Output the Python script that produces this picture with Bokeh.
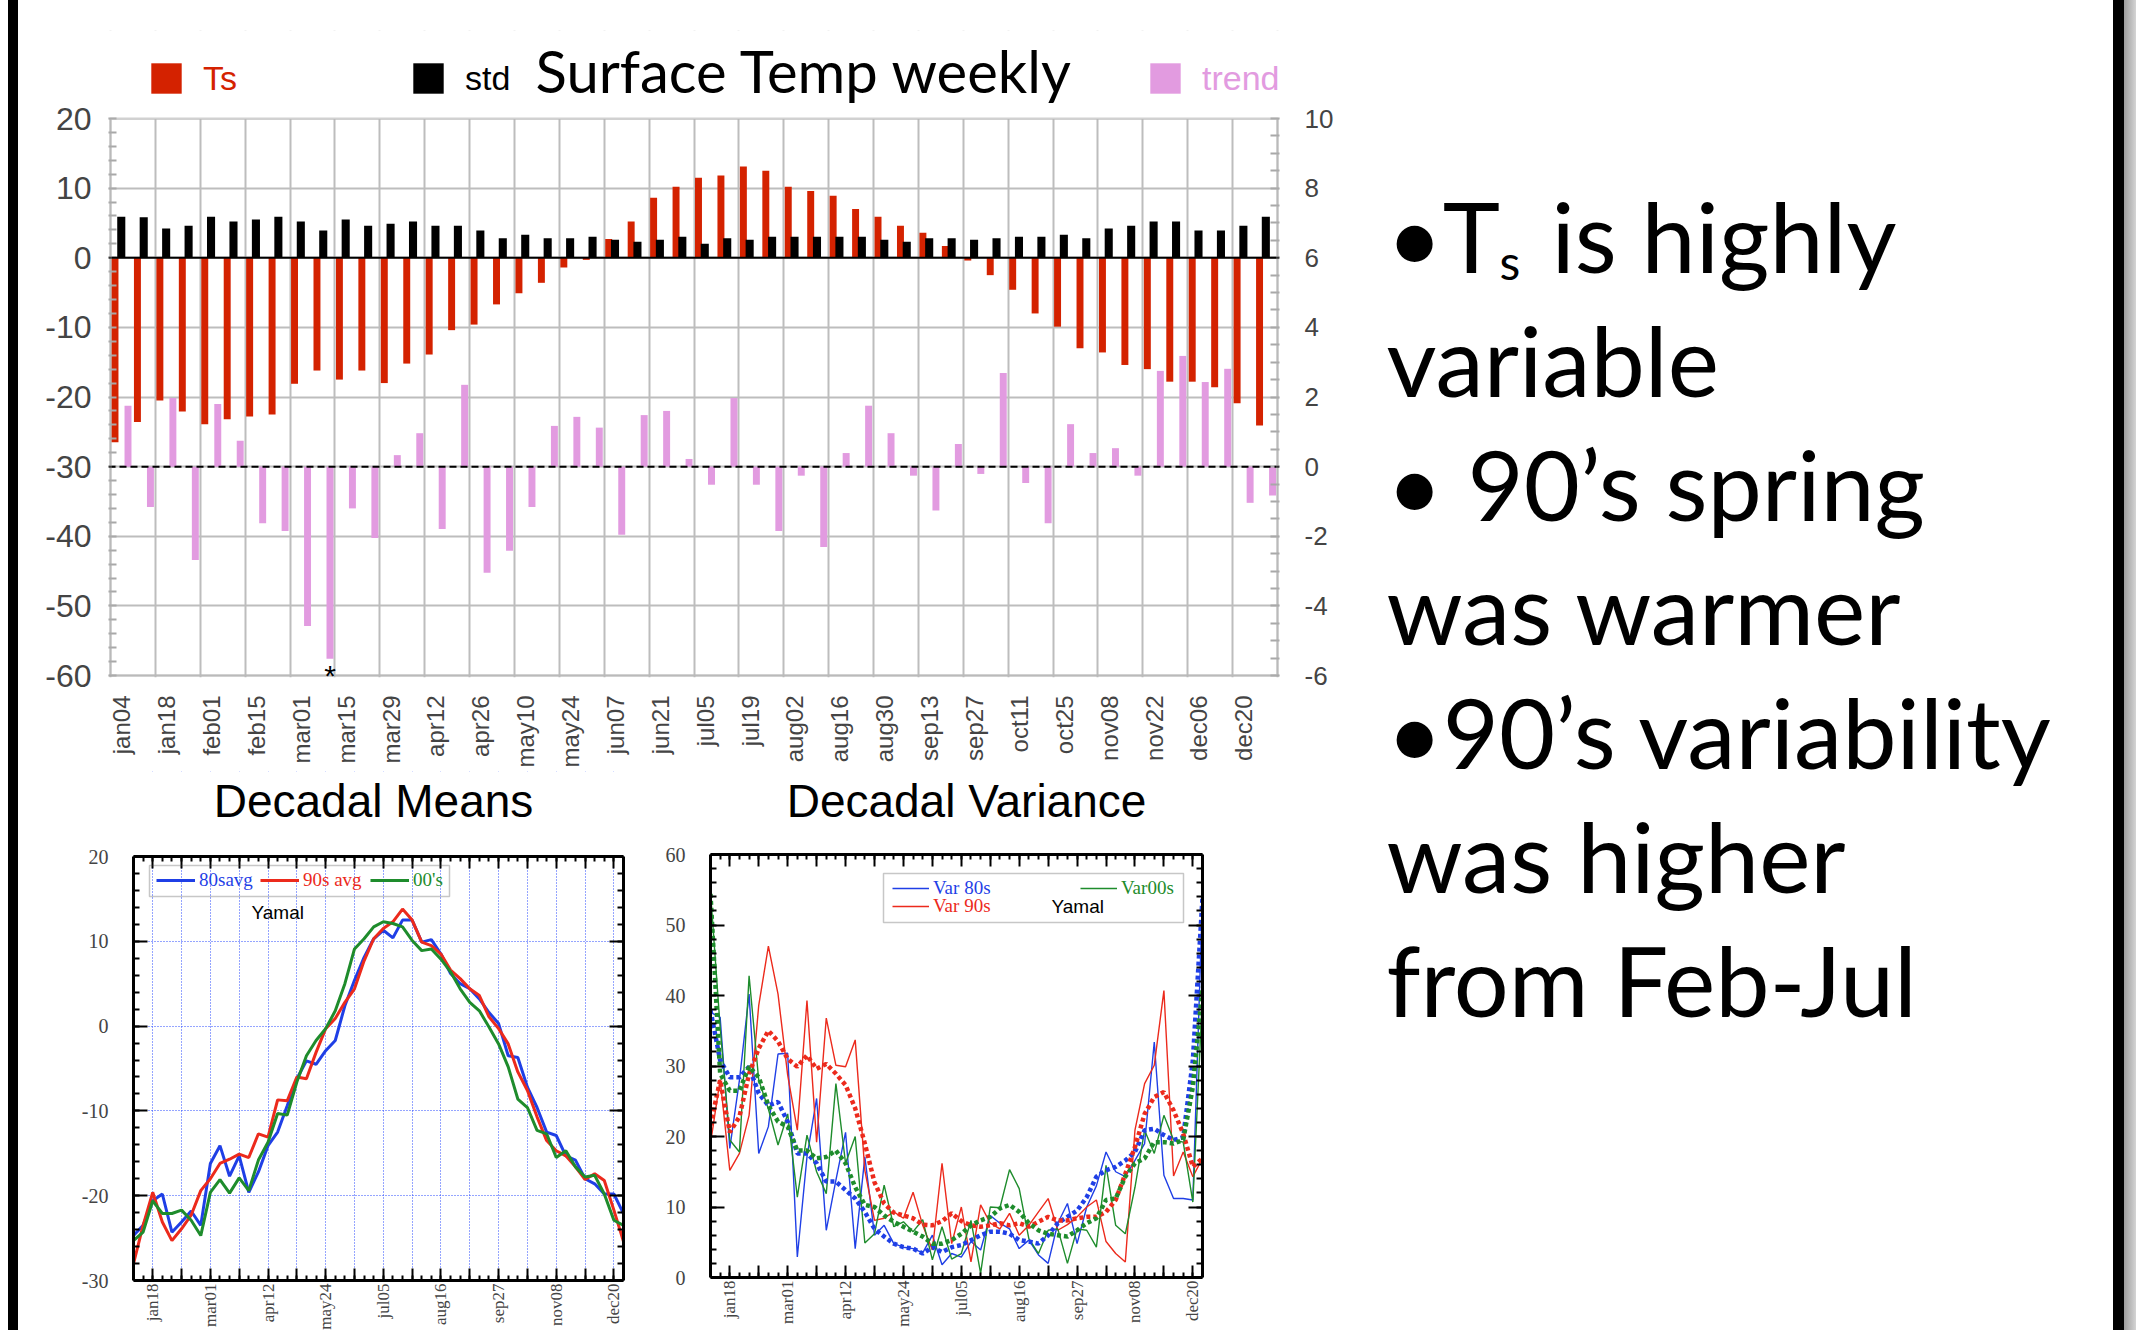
import numpy as np
from bokeh.plotting import figure
from bokeh.models import (ColumnDataSource, Range1d, LinearAxis, FixedTicker,
                          SingleIntervalTicker, Span, Legend, LegendItem, Label,
                          LabelSet, BoxAnnotation, Div)
from bokeh.layouts import row, column
from bokeh.transform import dodge
from bokeh.core.properties import value
from bokeh.embed import file_html
from bokeh.resources import INLINE

# ------------------------------------------------------------------ data
weeks = ["jan04", "jan11", "jan18", "jan25", "feb01", "feb08", "feb15", "feb22",
         "mar01", "mar08", "mar15", "mar22", "mar29", "apr05", "apr12", "apr19",
         "apr26", "may03", "may10", "may17", "may24", "may31", "jun07", "jun14",
         "jun21", "jun28", "jul05", "jul12", "jul19", "jul26", "aug02", "aug09",
         "aug16", "aug23", "aug30", "sep06", "sep13", "sep20", "sep27", "oct04",
         "oct11", "oct18", "oct25", "nov01", "nov08", "nov15", "nov22", "nov29",
         "dec06", "dec13", "dec20", "dec27"]

ts = [-26.5, -23.6, -20.5, -22.1, -23.9, -23.2, -22.8, -22.5, -18.1, -16.2,
      -17.5, -16.2, -18.0, -15.2, -13.9, -10.4, -9.6, -6.7, -5.1, -3.6,
      -1.4, -0.3, 2.7, 5.2, 8.6, 10.2, 11.5, 11.8, 13.1, 12.5,
      10.2, 9.6, 8.9, 7.0, 5.9, 4.6, 3.6, 1.7, -0.4, -2.5,
      -4.6, -8.0, -9.9, -13.0, -13.6, -15.4, -16.0, -17.8, -17.8, -18.6,
      -20.9, -24.1]
std = [5.9, 5.8, 4.2, 4.6, 5.9, 5.2, 5.5, 5.9, 5.2, 3.9,
       5.5, 4.6, 4.9, 5.2, 4.6, 4.6, 3.9, 2.8, 3.3, 2.8,
       2.8, 3.0, 2.6, 2.3, 2.6, 3.0, 2.0, 2.8, 2.6, 3.0,
       3.0, 3.0, 3.0, 3.0, 2.6, 2.3, 2.8, 2.8, 2.6, 2.8,
       3.0, 3.0, 3.3, 2.8, 4.2, 4.6, 5.2, 5.2, 3.9, 3.9,
       4.6, 5.9]
trend = [1.75, -1.16, 1.97, -2.68, 1.80, 0.74, -1.63, -1.85, -4.58, -5.52,
         -1.20, -2.05, 0.33, 0.96, -1.79, 2.35, -3.05, -2.42, -1.16, 1.17,
         1.43, 1.12, -1.96, 1.48, 1.60, 0.22, -0.52, 1.97, -0.52, -1.85,
         -0.26, -2.31, 0.39, 1.75, 0.96, -0.26, -1.26, 0.65, -0.21, 2.69,
         -0.47, -1.63, 1.22, 0.39, 0.53, -0.26, 2.75, 3.18, 2.43, 2.81,
         -1.04, -0.83]
signif_weeks = ["mar08"]

avg80 = [-24.7, -23.5, -20.6, -19.8, -24.3, -23.1, -21.8, -23.5, -16.2, -14.1,
         -17.7, -15.3, -19.6, -17.2, -14.1, -12.5, -9.4, -6.2, -4.1, -4.5,
         -2.9, -1.7, 2.4, 5.4, 8.1, 10.3, 11.3, 10.4, 12.5, 12.5,
         9.9, 10.2, 8.5, 6.2, 5.0, 4.4, 3.2, 1.6, 0.3, -3.5,
         -3.7, -7.2, -9.6, -12.5, -12.9, -15.3, -15.8, -18.0, -18.6, -19.8,
         -19.8, -22.1]
avg90 = [-28.0, -23.5, -19.6, -23.1, -25.3, -23.9, -22.3, -19.4, -18.0, -16.2,
         -15.7, -15.1, -15.5, -12.7, -13.1, -8.7, -8.8, -6.0, -6.2, -3.1,
         -0.3, 0.9, 2.8, 4.4, 7.7, 10.3, 11.5, 12.3, 13.8, 12.5,
         9.9, 9.5, 8.5, 6.6, 5.6, 4.4, 3.6, 1.1, -0.3, -2.1,
         -5.4, -7.6, -10.7, -13.5, -14.7, -15.3, -16.6, -18.1, -17.4, -18.2,
         -21.7, -25.4]
avg00 = [-25.3, -24.3, -20.6, -22.1, -22.1, -21.7, -22.9, -24.7, -19.6, -18.1,
         -19.7, -17.9, -19.4, -15.8, -13.7, -10.3, -10.5, -6.6, -3.5, -1.7,
         -0.3, 1.8, 5.0, 9.1, 10.3, 11.7, 12.3, 12.1, 11.7, 10.1,
         8.9, 9.1, 7.9, 6.4, 4.4, 2.8, 1.8, -0.1, -2.1, -4.8,
         -8.6, -9.6, -12.3, -12.7, -15.5, -14.7, -16.6, -17.8, -17.6, -19.8,
         -22.9, -23.5]

var80 = [37.6, 36.9, 18.3, 28.0, 40.2, 17.6, 21.4, 31.7, 31.8, 2.9,
         17.1, 25.4, 6.7, 13.8, 20.6, 4.1, 17.1, 6.0, 7.4, 4.8,
         4.3, 4.1, 3.5, 6.0, 1.8, 3.4, 2.9, 5.1, 3.9, 8.8,
         7.7, 6.9, 4.1, 5.3, 3.2, 2.0, 7.7, 10.5, 4.8, 10.0,
         13.0, 17.8, 15.0, 14.3, 16.6, 19.0, 33.4, 14.5, 11.2, 11.2,
         11.0, 53.9]
var90 = [19.0, 28.1, 15.2, 17.6, 23.0, 38.6, 47.0, 40.2, 28.7, 20.9,
         39.3, 19.2, 36.8, 30.1, 29.9, 33.7, 15.2, 8.1, 8.4, 9.3,
         8.4, 12.1, 7.4, 3.9, 16.2, 4.8, 10.0, 2.2, 10.3, 7.7,
         6.9, 9.1, 6.0, 7.4, 9.3, 11.2, 6.7, 7.5, 8.6, 10.0,
         11.0, 5.1, 3.4, 2.2, 20.9, 27.5, 30.1, 40.7, 14.4, 17.8,
         14.3, 16.9]
var00 = [54.7, 35.5, 19.5, 17.8, 42.8, 28.0, 23.9, 18.8, 23.2, 11.4,
         20.2, 15.0, 11.9, 27.5, 16.2, 20.0, 4.9, 6.2, 13.1, 7.2,
         7.9, 6.5, 8.2, 2.5, 7.2, 2.6, 3.4, 8.1, 0.6, 10.0,
         9.9, 15.3, 12.6, 5.5, 3.4, 6.7, 6.9, 2.0, 6.9, 6.7,
         4.3, 15.9, 7.4, 6.2, 12.8, 20.9, 17.6, 23.0, 19.5, 19.2,
         10.7, 40.2]
var80_smooth = [37.9, 30.8, 28.4, 28.4, 29.9, 26.1, 24.4, 24.9, 22.1, 17.6,
                17.6, 16.2, 13.6, 13.6, 12.4, 11.2, 9.3, 6.9, 5.8, 4.8,
                4.3, 4.1, 3.4, 4.3, 3.6, 4.3, 4.6, 5.3, 6.0, 6.5,
                6.5, 6.2, 5.3, 5.1, 4.8, 6.0, 7.7, 8.6, 9.5, 11.4,
                14.3, 15.2, 15.7, 16.6, 17.8, 20.9, 21.1, 20.2, 19.5, 19.9,
                30.8, 53.9]
var90_smooth = [21.6, 28.0, 20.6, 22.8, 28.9, 32.5, 35.0, 33.5, 31.0, 29.9,
                31.5, 29.6, 30.3, 28.9, 27.3, 24.0, 19.0, 13.5, 10.5, 9.2,
                8.8, 8.4, 7.5, 7.4, 8.0, 9.1, 8.0, 7.4, 7.2, 7.4,
                7.7, 7.4, 7.7, 7.2, 7.9, 8.6, 8.1, 8.1, 8.4, 8.6,
                8.6, 9.3, 11.0, 14.7, 18.5, 23.2, 25.6, 26.3, 23.7, 20.4,
                15.7, 16.9]
var00_smooth = [54.4, 28.9, 26.5, 26.5, 29.9, 28.4, 24.4, 22.1, 21.4, 18.0,
                18.0, 16.9, 17.1, 18.0, 16.2, 12.8, 10.3, 10.0, 8.8, 7.9,
                7.2, 6.5, 5.8, 4.8, 4.8, 5.3, 6.2, 7.4, 8.1, 8.6,
                9.8, 10.3, 9.3, 7.7, 6.7, 6.2, 6.0, 5.8, 6.7, 7.7,
                8.4, 11.0, 11.2, 14.3, 16.2, 16.9, 19.2, 19.2, 19.0, 19.5,
                27.0, 41.2]

bullet_lines = ["\u2022T", "variable", "\u2022 90\u2019s spring", "was warmer",
                "\u202290\u2019s variability", "was higher", "from Feb-Jul"]
first_line_sub = "s"
first_line_rest = "is highly"
panel_titles = ["Decadal Means", "Decadal Variance"]

# ------------------------------------------------------------------ styles
RED = "#d42200"
PINK = "#e29be0"
GRID = "#bdbdbd"
BLUE = "#1f3fe6"
LRED = "#ec2a1c"
GREEN = "#1e8c2c"
LATO_MID = 0.387      # baseline offset of a 'middle' anchored Lato line (em)
SANS_MID = 0.347      # same for Liberation Sans

widx = list(range(len(weeks)))
nw = len(weeks)

# ------------------------------------------------------------------ top chart
PX_X = nw / 1167.0
PX_Y = 80 / 557.0
PX_T = 16 / 557.0
x0, x1 = -0.5 - 2 * PX_X, nw - 0.5 + 2 * PX_X
y0, y1 = -60 - 2 * PX_Y, 20 + 88 * PX_Y

p1 = figure(width=1352, height=771, x_range=Range1d(x0, x1), y_range=Range1d(y0, y1),
            output_backend="svg", toolbar_location=None,
            min_border_left=90, min_border_right=91, min_border_top=30,
            min_border_bottom=94)
p1.extra_y_ranges = {"trend": Range1d(-6 - 2 * PX_T, 10 + 88 * PX_T)}
p1.outline_line_color = None

src1 = ColumnDataSource(dict(x=widx, ts=ts, std=std, trend=trend))

xa = p1.xaxis[0]
xa.ticker = FixedTicker(ticks=widx[::2])
xa.major_label_overrides = {i: weeks[i] for i in widx[::2]}
xa.major_label_orientation = np.pi / 2
xa.major_label_text_font = "Liberation Sans"
xa.major_label_text_font_size = "24px"
xa.major_label_standoff = 12
xa.major_tick_line_color = None
xa.minor_tick_line_color = None
xa.axis_line_color = None

ya = p1.yaxis[0]
ya.ticker = SingleIntervalTicker(interval=10, num_minor_ticks=5)
ya.bounds = (-60, 20)
ya.major_label_overrides = {v: str(v) for v in range(-60, 21, 10)}
ya.major_label_text_font = "Liberation Sans"
ya.major_label_text_font_size = "32px"
ya.major_label_standoff = 11
ya.major_tick_line_color = None
ya.minor_tick_in = 8
ya.minor_tick_out = 0
ya.minor_tick_line_color = "#a8a8a8"
ya.minor_tick_line_width = 2
ya.axis_line_color = None

yr = LinearAxis(y_range_name="trend",
                ticker=SingleIntervalTicker(interval=2, num_minor_ticks=4))
yr.bounds = (-6, 10)
yr.major_label_overrides = {v: str(v) for v in range(-6, 11, 2)}
yr.major_label_text_font = "Liberation Sans"
yr.major_label_text_font_size = "26px"
yr.major_label_standoff = 19
yr.major_tick_line_color = None
yr.minor_tick_in = 9
yr.minor_tick_out = 0
yr.minor_tick_line_color = "#a8a8a8"
yr.minor_tick_line_width = 2
yr.axis_line_color = None
p1.add_layout(yr, "right")

p1.xgrid.ticker = FixedTicker(ticks=[i - 0.5 for i in widx[::2]] + [nw - 0.5])
p1.ygrid.ticker = FixedTicker(ticks=list(range(-60, 21, 10)))
for g in (p1.xgrid[0], p1.ygrid[0]):
    g.grid_line_color = GRID
    g.grid_line_width = 2

p1.add_layout(BoxAnnotation(left=x0, right=x1, bottom=20, top=y1, fill_color="white",
                            fill_alpha=1, line_color=None, level="underlay"))

r_ts = p1.vbar(x=dodge("x", -0.30), top="ts", bottom=0, width=0.31, source=src1,
               fill_color=RED, line_color=None)
r_std = p1.vbar(x=dodge("x", -0.02), top="std", bottom=0, width=0.36, source=src1,
                fill_color="black", line_color=None)
r_tr = p1.vbar(x=dodge("x", 0.28), top="trend", bottom=0, width=0.31, source=src1,
               fill_color=PINK, line_color=None, y_range_name="trend")

p1.add_layout(Span(location=0, dimension="width", line_color="black", line_width=2))
p1.add_layout(Span(location=-30, dimension="width", line_color="black", line_width=2,
                   line_dash="7 4"))
p1.add_layout(BoxAnnotation(left=-0.5, right=nw - 0.5, bottom=-60, top=20,
                            fill_color=None, line_color="#b4b4b4", line_width=3))

sig_idx = [weeks.index(w) for w in signif_weeks]
sig_src = ColumnDataSource(dict(x=sig_idx, y=[-60] * len(sig_idx), t=["*"] * len(sig_idx)))
p1.add_layout(LabelSet(x=dodge("x", 0.28), y="y", text="t", source=sig_src,
                       text_align="center", text_baseline="middle",
                       text_font=value("Liberation Sans"), text_font_size="30px",
                       text_color="black"))


def top_legend(label, rend, color, vx):
    lg = Legend(items=[LegendItem(label=value(label), renderers=[rend])],
                location=(vx, 579), orientation="horizontal",
                glyph_width=38, glyph_height=38, label_height=40,
                label_standoff=18, label_text_font="Liberation Sans",
                label_text_font_size="34px", label_text_color=color,
                border_line_color=None, background_fill_alpha=0,
                padding=0, margin=0, spacing=0)
    p1.add_layout(lg)


top_legend("Ts", r_ts, RED, 39)
top_legend("std", r_std, "black", 301)
top_legend("trend", r_tr, PINK, 1038)

p1.add_layout(Label(x=427, y=677 - 92 + LATO_MID * 58, x_units="screen", y_units="screen",
                    text="Surface Temp weekly", text_font="Lato",
                    text_font_size="58px", text_baseline="middle",
                    text_color="black"))

# ------------------------------------------------------------------ bottom charts
src2 = ColumnDataSource(dict(x=widx, a80=avg80, a90=avg90, a00=avg00,
                             v80=var80, v90=var90, v00=var00,
                             s80=var80_smooth, s90=var90_smooth, s00=var00_smooth))
xmaj = list(range(2, nw, 3))


def style_x(ax, labels):
    ax.ticker = FixedTicker(ticks=xmaj, minor_ticks=widx)
    ax.bounds = (0, nw - 1)
    ax.major_tick_in = 12
    ax.major_tick_out = 0
    ax.minor_tick_in = 5
    ax.minor_tick_out = 0
    ax.major_tick_line_width = 2
    ax.minor_tick_line_width = 2
    ax.major_tick_line_color = "black"
    ax.minor_tick_line_color = "black"
    ax.axis_line_color = "black"
    ax.axis_line_width = 3
    if labels:
        ax.major_label_overrides = {t: (weeks[t] if (t - 2) % 6 == 0 else "") for t in xmaj}
        ax.major_label_orientation = np.pi / 2
        ax.major_label_text_font = "Liberation Serif"
        ax.major_label_text_font_size = "17px"
        ax.major_label_standoff = 3
    else:
        ax.major_label_overrides = {t: "" for t in xmaj}
        ax.major_label_text_font_size = "1px"
        ax.major_label_standoff = 0


def style_y(ax, yrange, labels):
    ticks = list(range(yrange[0], yrange[1] + 1, 10))
    ax.ticker = SingleIntervalTicker(interval=10, num_minor_ticks=5)
    ax.bounds = yrange
    ax.major_tick_in = 14
    ax.major_tick_out = 0
    ax.minor_tick_in = 6
    ax.minor_tick_out = 0
    ax.major_tick_line_width = 2
    ax.minor_tick_line_width = 2
    ax.major_tick_line_color = "black"
    ax.minor_tick_line_color = "black"
    ax.axis_line_color = "black"
    ax.axis_line_width = 3
    if labels:
        ax.major_label_overrides = {v: str(v) for v in ticks}
        ax.major_label_text_font = "Liberation Serif"
        ax.major_label_text_font_size = "20px"
        ax.major_label_standoff = 25
    else:
        ax.major_label_overrides = {v: "" for v in ticks}
        ax.major_label_text_font_size = "1px"
        ax.major_label_standoff = 0


FIG_H = 1330 - 771


def small_fig(yrange, width, ml, mr, top_px, box_px, title, title_x):
    # frame spans the whole figure height: top_px above the plot box, then the box,
    # then the strip for the month labels down to the window edge
    ext_px = FIG_H - top_px - box_px
    span = yrange[1] - yrange[0]
    ybot = yrange[0] - ext_px * span / box_px
    ytop = yrange[1] + top_px * span / box_px
    p = figure(width=width, height=FIG_H, x_range=Range1d(0, nw - 1),
               y_range=Range1d(ybot, ytop), output_backend="svg",
               toolbar_location=None, min_border_left=ml, min_border_right=mr,
               min_border_top=0, min_border_bottom=0)
    p.outline_line_color = None
    style_x(p.xaxis[0], True)
    p.xaxis[0].fixed_location = yrange[0]
    style_y(p.yaxis[0], yrange, True)
    top_ax = LinearAxis(fixed_location=yrange[1])
    style_x(top_ax, False)
    p.add_layout(top_ax, "above")
    right_ax = LinearAxis()
    style_y(right_ax, yrange, False)
    p.add_layout(right_ax, "right")
    p.add_layout(BoxAnnotation(top=yrange[0], fill_color="white", fill_alpha=1,
                               line_color=None, level="underlay"))
    p.add_layout(BoxAnnotation(bottom=yrange[1], fill_color="white", fill_alpha=1,
                               line_color=None, level="underlay"))
    p.add_layout(Label(x=title_x, y=FIG_H - (45 - SANS_MID * 46), x_units="screen",
                       y_units="screen", text=title, text_align="center",
                       text_baseline="middle", text_font="Liberation Sans",
                       text_font_size="46px", text_color="black"))
    return p


def line_legend(p, label, rend, color, vx, vy, gw):
    lg = Legend(items=[LegendItem(label=value(label), renderers=[rend])],
                location=(vx, vy), orientation="horizontal",
                glyph_width=gw, glyph_height=20, label_height=20,
                label_standoff=4, label_text_font="Liberation Serif",
                label_text_font_size="19px", label_text_color=color,
                border_line_color=None, background_fill_alpha=0,
                padding=0, margin=0, spacing=0)
    p.add_layout(lg)


# ---- decadal means  (frame 771..1330, plot box 856..1280)
p2 = small_fig((-30, 20), 642, 115, 37, 85, 424, panel_titles[0], 240)
p2.xgrid.ticker = FixedTicker(ticks=xmaj)
p2.ygrid.ticker = FixedTicker(ticks=[-20, -10, 0, 10])
for g in (p2.xgrid[0], p2.ygrid[0]):
    g.grid_line_color = "#2a4bff"
    g.grid_line_dash = "1 2"
    g.grid_line_width = 1
r80 = p2.line("x", "a80", source=src2, line_color=BLUE, line_width=3)
r90 = p2.line("x", "a90", source=src2, line_color=LRED, line_width=3)
r00 = p2.line("x", "a00", source=src2, line_color=GREEN, line_width=3)
p2.add_layout(BoxAnnotation(left=16, right=316, top=465, bottom=434,
                            left_units="screen", right_units="screen",
                            top_units="screen", bottom_units="screen",
                            fill_color=None, line_color="#444444", line_width=1.5))
line_legend(p2, "80savg", r80, BLUE, 23, 439, 39)
line_legend(p2, "90s avg", r90, LRED, 127, 439, 39)
line_legend(p2, "00's", r00, GREEN, 237, 439, 39)
p2.add_layout(Label(x=118, y=408, x_units="screen", y_units="screen", text="Yamal",
                    text_font="Liberation Sans", text_font_size="19px",
                    text_baseline="bottom", text_color="black"))

# ---- decadal variance  (frame 771..1330, plot box 854..1277)
p3 = small_fig((0, 60), 710, 50, 168, 83, 423, panel_titles[1], 256)
p3.xgrid.grid_line_color = None
p3.ygrid.grid_line_color = None
rv80 = p3.line("x", "v80", source=src2, line_color=BLUE, line_width=1.4)
rv90 = p3.line("x", "v90", source=src2, line_color=LRED, line_width=1.4)
rv00 = p3.line("x", "v00", source=src2, line_color=GREEN, line_width=1.4)
for col, c in (("s80", BLUE), ("s90", LRED), ("s00", GREEN)):
    p3.line("x", col, source=src2, line_color=c, line_width=4.5, line_dash="4 3")
p3.add_layout(BoxAnnotation(left=173, right=473, top=457, bottom=408,
                            left_units="screen", right_units="screen",
                            top_units="screen", bottom_units="screen",
                            fill_color=None, line_color="#444444", line_width=1.5))
line_legend(p3, "Var 80s", rv80, BLUE, 182, 431, 37)
line_legend(p3, "Var 90s", rv90, LRED, 182, 413, 37)
line_legend(p3, "Var00s", rv00, GREEN, 370, 431, 37)
p3.add_layout(Label(x=341, y=414, x_units="screen", y_units="screen", text="Yamal",
                    text_font="Liberation Sans", text_font_size="19px",
                    text_baseline="bottom", text_color="black"))

# ------------------------------------------------------------------ bullet text panel
pb = figure(width=743, height=1330, x_range=Range1d(0, 743), y_range=Range1d(1330, 0),
            output_backend="svg", toolbar_location=None, x_axis_type=None,
            y_axis_type=None, min_border=0, outline_line_color=None)
pb.grid.visible = False
BIG = 97
for k, line in enumerate(bullet_lines):
    base = 273 + 124 * k
    pb.add_layout(Label(x=16, y=base - LATO_MID * BIG, text=line, text_font="Lato",
                        text_font_size=f"{BIG}px", text_baseline="middle",
                        text_color="black"))
pb.add_layout(Label(x=129, y=280 - LATO_MID * 48, text=first_line_sub, text_font="Lato",
                    text_font_size="48px", text_baseline="middle", text_color="black"))
pb.add_layout(Label(x=181, y=273 - LATO_MID * BIG, text=first_line_rest, text_font="Lato",
                    text_font_size=f"{BIG}px", text_baseline="middle", text_color="black"))

# ------------------------------------------------------------------ borders + layout
left_bar = Div(text="", width=18, height=1330, margin=0,
               styles={"background": "linear-gradient(to right, #fff 0px, #fff 8px, #000 8px, #000 18px)"})
right_bar = Div(text="", width=23, height=1330, margin=0,
                styles={"background": "linear-gradient(to right, #000 0px, #000 11px, #9c9c9c 11px, #d4d4d4 23px)"})

layout = row(left_bar, column(p1, row(p2, p3)), pb, right_bar)
open("out.html", "w").write(file_html(layout, INLINE))
